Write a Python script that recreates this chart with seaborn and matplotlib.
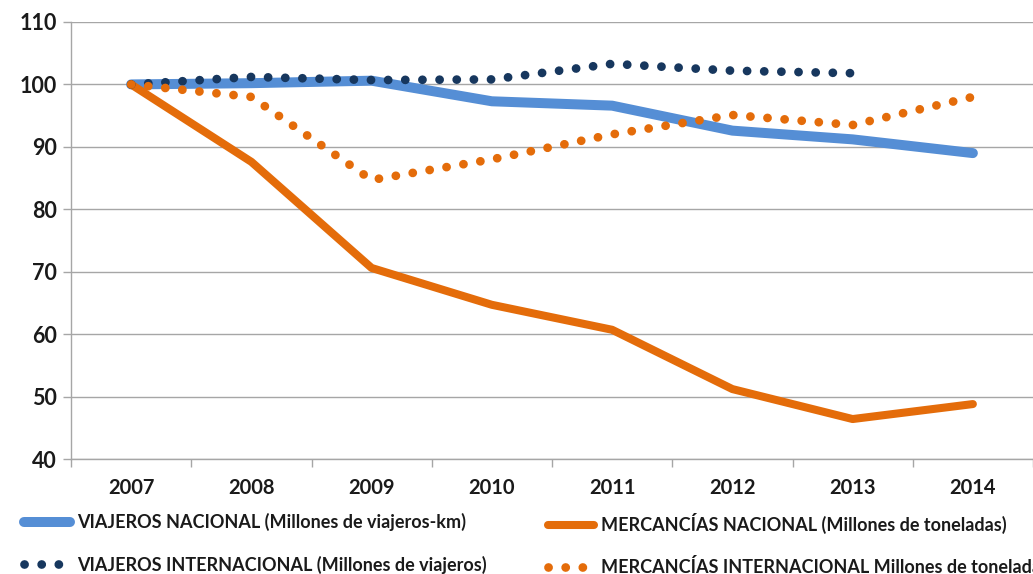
import numpy as np
import pandas as pd
import matplotlib
matplotlib.use("Agg")
import matplotlib.pyplot as plt
from matplotlib.lines import Line2D
import seaborn as sns

years = ["2007", "2008", "2009", "2010", "2011", "2012", "2013", "2014"]
viajeros_nacional = [100.0, 100.2, 100.6, 97.3, 96.6, 92.6, 91.2, 89.0]
mercancias_nacional = [100.0, 87.6, 70.6, 64.7, 60.7, 51.2, 46.4, 48.8]
viajeros_internacional = [100.0, 101.2, 100.7, 100.8, 103.3, 102.2, 101.8, np.nan]
mercancias_internacional = [100.0, 98.0, 84.7, 88.0, 92.0, 95.1, 93.5, 98.0]

labels = [
    "VIAJEROS NACIONAL (Millones de viajeros-km)",
    "MERCANCÍAS NACIONAL (Millones de toneladas)",
    "VIAJEROS INTERNACIONAL (Millones de viajeros)",
    "MERCANCÍAS INTERNACIONAL Millones de toneladas",
]
colors = ["#558ED5", "#E46C0A", "#17375E", "#E46C0A"]

sns.set_theme(style="white")
plt.rcParams["font.family"] = ["Lato", "DejaVu Sans"]

fig = plt.figure(figsize=(10.33, 5.74), dpi=100)
ax = fig.add_axes([71 / 1033, 115 / 574, 962 / 1033, 437 / 574])

xpos = np.arange(len(years))
df = pd.DataFrame({"x": xpos, "VN": viajeros_nacional, "MN": mercancias_nacional,
                   "VI": viajeros_internacional, "MI": mercancias_internacional})

dot = (0, (0.01, 1.95))
sns.lineplot(data=df, x="x", y="VN", ax=ax, color=colors[0], lw=7.2,
             solid_capstyle="round", solid_joinstyle="round", zorder=3)
sns.lineplot(data=df, x="x", y="MN", ax=ax, color=colors[1], lw=5.8,
             solid_capstyle="round", solid_joinstyle="round", zorder=4)
sns.lineplot(data=df.dropna(), x="x", y="VI", ax=ax, color=colors[2], lw=6.3,
             linestyle=dot, dash_capstyle="round", zorder=5)
sns.lineplot(data=df, x="x", y="MI", ax=ax, color=colors[3], lw=6.3,
             linestyle=dot, dash_capstyle="round", zorder=5)

ax.set_xlim(-0.5, -0.5 + 962 / 121.2)
ax.set_ylim(40, 110)
ax.set_yticks(np.arange(40, 111, 10))
ax.set_xticks(xpos)
ax.set_xticklabels(years)
ax.set_xticks(np.arange(-0.5, 7.6, 1), minor=True)
ax.set_xlabel("")
ax.set_ylabel("")

ax.yaxis.grid(True, color="#A6A6A6", lw=1.0)
ax.xaxis.grid(False)
for s in ["top", "right"]:
    ax.spines[s].set_visible(False)
for s in ["left", "bottom"]:
    ax.spines[s].set_color("#A6A6A6")
    ax.spines[s].set_linewidth(1.0)

ax.tick_params(axis="y", which="major", direction="out", length=6, width=1,
               color="#A6A6A6", labelsize=15.5, pad=4, left=True)
ax.tick_params(axis="x", which="major", length=0, labelsize=14.5, pad=14)
ax.tick_params(axis="x", which="minor", direction="out", length=6, width=1,
               color="#A6A6A6", bottom=True)
for t in ax.get_yticklabels() + ax.get_xticklabels():
    t.set_fontweight("bold")
    t.set_color("#1a1a1a")

h_vn = Line2D([], [], color=colors[0], lw=7.2, solid_capstyle="round")
h_mn = Line2D([], [], color=colors[1], lw=5.8, solid_capstyle="round")
h_vi = Line2D([], [], color=colors[2], lw=6.3, linestyle=dot, dash_capstyle="round")
h_mi = Line2D([], [], color=colors[3], lw=6.3, linestyle=dot, dash_capstyle="round")

common = dict(frameon=False, loc="upper left", borderpad=0, borderaxespad=0,
              handlelength=2.52, handletextpad=0.41, labelspacing=1.35,
              prop={"weight": "bold", "size": 13})
leg1 = fig.legend([h_vn, h_vi], [labels[0], labels[2]],
                  bbox_to_anchor=(24 / 1033, 1 - 513 / 574), **common)
leg2 = fig.legend([h_mn, h_mi], [labels[1], labels[3]],
                  bbox_to_anchor=(548 / 1033, 1 - 513 / 574), **common)
for leg in (leg1, leg2):
    for t in leg.get_texts():
        t.set_color("#1a1a1a")

fig.savefig("out.png", dpi=100)
